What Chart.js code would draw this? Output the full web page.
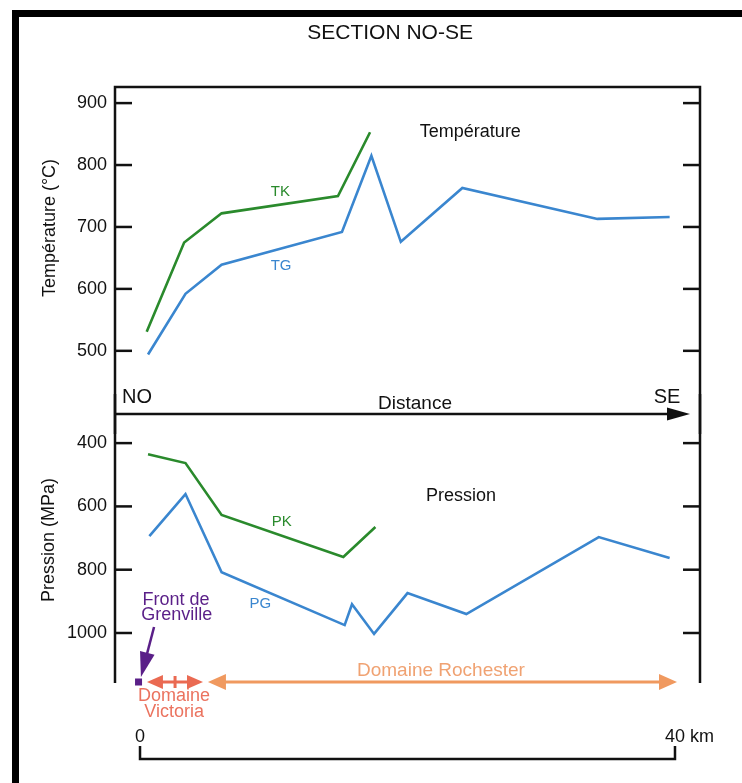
<!DOCTYPE html>
<html>
<head>
<meta charset="utf-8">
<script src="https://cdn.jsdelivr.net/npm/chart.js@4.4.1/dist/chart.umd.min.js"></script>
<style>
    html, body { margin: 0; padding: 0; background: #fff; }
    body { width: 742px; height: 783px; position: relative; overflow: hidden; }
    #cadre { position: absolute; left: 12px; top: 10px; width: 800px; height: 800px;
             border-left: 7px solid #000; border-top: 7px solid #000; }
    canvas { position: absolute; left: 0; }
    #grafTemp { top: 0; }
    #grafPres { top: 394px; }
</style>
</head>
<body>
<div id="cadre"></div>
<canvas id="grafTemp" width="742" height="434"></canvas>
<canvas id="grafPres" width="742" height="389"></canvas>
<script>
// Distances le long de la coupe (km) et valeurs
const tkKm  = [0.5, 3.3, 6.1, 14.8, 17.2];
const tkVal = [531, 675, 722, 750, 853];
const tgKm  = [0.6, 3.4, 6.1, 15.1, 17.3, 19.5, 24.1, 34.2, 39.6];
const tgVal = [494, 592, 639, 692, 815, 676, 763, 713, 716];
const pkKm  = [0.6, 3.4, 6.1, 15.2, 17.6];
const pkVal = [435, 463, 627, 760, 665];
const pgKm  = [0.7, 3.4, 6.1, 15.3, 15.85, 17.5, 20.0, 24.4, 34.3, 39.6];
const pgVal = [694, 561, 808, 975, 909, 1003, 874, 940, 697, 763];

const tempTicks = [500, 600, 700, 800, 900];
const presTicks = [400, 600, 800, 1000];

const FONT = "'Liberation Sans', Arial, sans-serif";
const VERT = "#2a8a2c";
const BLEU = "#3a86cf";
const NOIR = "#111";

const points = (xs, ys) => xs.map((v, i) => ({ x: v, y: ys[i] }));

function texte(ctx, s, x, y, taille, couleur, align) {
    ctx.font = `${taille}px ${FONT}`;
    ctx.fillStyle = couleur;
    ctx.textAlign = align || "center";
    ctx.textBaseline = "middle";
    ctx.fillText(s, x, y);
}

function ligne(ctx, x1, y1, x2, y2) {
    ctx.beginPath();
    ctx.moveTo(x1, y1);
    ctx.lineTo(x2, y2);
    ctx.stroke();
}

// pointe de fleche (triangle plein) orientee selon l'angle
function pointe(ctx, xt, yt, angle, long, demi) {
    const c = Math.cos(angle), s = Math.sin(angle);
    const bx = xt - c * long, by = yt - s * long;
    ctx.beginPath();
    ctx.moveTo(xt, yt);
    ctx.lineTo(bx - s * demi, by + c * demi);
    ctx.lineTo(bx + s * demi, by - c * demi);
    ctx.closePath();
    ctx.fill();
}

function graduations(ctx, a, echelle, valeurs) {
    valeurs.forEach(v => {
        const py = echelle.getPixelForValue(v);
        ligne(ctx, a.left, py, a.left + 17, py);
        ligne(ctx, a.right - 17, py, a.right, py);
    });
}

const dessinTemp = {
    id: "dessinTemp",
    afterDraw(chart) {
        const { ctx, chartArea: a, scales: { x, y } } = chart;
        ctx.save();
        ctx.strokeStyle = NOIR;
        ctx.fillStyle = NOIR;
        ctx.lineWidth = 2.5;
        ctx.lineCap = "butt";

        // cadre du graphique
        ctx.beginPath();
        ctx.moveTo(a.left, chart.height);
        ctx.lineTo(a.left, a.top);
        ctx.lineTo(a.right, a.top);
        ctx.lineTo(a.right, chart.height);
        ctx.stroke();
        graduations(ctx, a, y, tempTicks);

        // axe Distance avec fleche
        ligne(ctx, a.left, a.bottom, a.right - 30, a.bottom);
        pointe(ctx, a.right - 10, a.bottom, 0, 23, 6.5);

        texte(ctx, "SECTION NO-SE", x.getPixelForValue(18.7), 33, 21, NOIR);
        texte(ctx, "NO", x.getPixelForValue(-1.35), y.getPixelForValue(424), 20, NOIR, "left");
        texte(ctx, "SE", x.getPixelForValue(39.4), y.getPixelForValue(424), 20, NOIR);
        texte(ctx, "Distance", x.getPixelForValue(20.56), y.getPixelForValue(415), 19, NOIR);
        texte(ctx, "Température", x.getPixelForValue(24.7), y.getPixelForValue(853), 18, NOIR);
        texte(ctx, "TK", x.getPixelForValue(10.5), y.getPixelForValue(756), 15, VERT);
        texte(ctx, "TG", x.getPixelForValue(10.55), y.getPixelForValue(637), 15, BLEU);

        // titre de l'axe vertical
        ctx.save();
        ctx.translate(50, 228);
        ctx.rotate(-Math.PI / 2);
        texte(ctx, "Température (°C)", 0, 0, 18, NOIR);
        ctx.restore();
        ctx.restore();
    }
};

const dessinPres = {
    id: "dessinPres",
    afterDraw(chart) {
        const { ctx, chartArea: a, scales: { x, y } } = chart;
        ctx.save();
        ctx.strokeStyle = NOIR;
        ctx.fillStyle = NOIR;
        ctx.lineWidth = 2.5;

        ligne(ctx, a.left, 0, a.left, a.bottom);
        ligne(ctx, a.right, 0, a.right, a.bottom);
        graduations(ctx, a, y, presTicks);

        texte(ctx, "Pression", x.getPixelForValue(24.0), y.getPixelForValue(567), 18, NOIR);
        texte(ctx, "PK", x.getPixelForValue(10.6), y.getPixelForValue(650), 15, VERT);
        texte(ctx, "PG", x.getPixelForValue(9.0), y.getPixelForValue(909), 15, BLEU);

        ctx.save();
        ctx.translate(49, a.top + 126);
        ctx.rotate(-Math.PI / 2);
        texte(ctx, "Pression (MPa)", 0, 0, 18, NOIR);
        ctx.restore();

        const yb = a.bottom - 1;

        // Domaine Rochester
        const ORANGE = "#f0995f";
        ctx.strokeStyle = ORANGE;
        ctx.fillStyle = ORANGE;
        ctx.lineWidth = 3;
        const r1 = x.getPixelForValue(5.08), r2 = x.getPixelForValue(40.15);
        ligne(ctx, r1 + 10, yb, r2 - 10, yb);
        pointe(ctx, r1, yb, Math.PI, 18, 8);
        pointe(ctx, r2, yb, 0, 18, 8);
        texte(ctx, "Domaine Rochester", x.getPixelForValue(22.5), y.getPixelForValue(1120), 19, "#f0a272");

        // Domaine Victoria
        const CORAIL = "#ea6a52";
        ctx.strokeStyle = CORAIL;
        ctx.fillStyle = CORAIL;
        const v1 = x.getPixelForValue(0.52), v2 = x.getPixelForValue(4.71), vm = x.getPixelForValue(2.62);
        ligne(ctx, v1 + 8, yb, v2 - 8, yb);
        ligne(ctx, vm, yb - 6, vm, yb + 6);
        pointe(ctx, v1, yb, Math.PI, 16, 7);
        pointe(ctx, v2, yb, 0, 16, 7);
        texte(ctx, "Domaine", x.getPixelForValue(2.55), a.bottom + 13, 18, "#eb735f");
        texte(ctx, "Victoria", x.getPixelForValue(2.55), a.bottom + 29, 18, "#eb735f");

        // Front de Grenville
        const VIOLET = "#5a1f88";
        ctx.strokeStyle = VIOLET;
        ctx.fillStyle = VIOLET;
        ctx.lineWidth = 2.5;
        const fx = x.getPixelForValue(-0.11);
        ctx.fillRect(fx - 3.5, yb - 3.5, 7, 7);
        const ax1 = x.getPixelForValue(1.05), ay1 = y.getPixelForValue(981);
        const ax2 = x.getPixelForValue(0.07), ay2 = y.getPixelForValue(1139);
        const ang = Math.atan2(ay2 - ay1, ax2 - ax1);
        ligne(ctx, ax1, ay1, ax2 - Math.cos(ang) * 12, ay2 - Math.sin(ang) * 12);
        pointe(ctx, ax2, ay2, ang, 25, 7.5);
        texte(ctx, "Front de", x.getPixelForValue(2.69), y.getPixelForValue(896), 18, VIOLET);
        texte(ctx, "Grenville", x.getPixelForValue(2.75), y.getPixelForValue(943), 18, VIOLET);

        // echelle 0 - 40 km
        ctx.strokeStyle = NOIR;
        ctx.lineWidth = 2.5;
        const e0 = x.getPixelForValue(0), e40 = x.getPixelForValue(40);
        const ye = a.bottom + 76;
        ctx.beginPath();
        ctx.moveTo(e0, ye - 13);
        ctx.lineTo(e0, ye);
        ctx.lineTo(e40, ye);
        ctx.lineTo(e40, ye - 13);
        ctx.stroke();
        texte(ctx, "0", e0, a.bottom + 54, 18, NOIR);
        texte(ctx, "40 km", e40 - 10, a.bottom + 54, 18, NOIR, "left");
        ctx.restore();
    }
};

const X_MIN = -1.87, X_MAX = 41.87;

function axeY(min, max, valeurs, inverse) {
    return {
        min: min,
        max: max,
        reverse: inverse,
        afterFit: s => { s.width = 115; },
        afterBuildTicks: s => { s.ticks = valeurs.map(v => ({ value: v })); },
        grid: { display: false, drawTicks: false },
        border: { display: false },
        ticks: { padding: 8, color: NOIR, font: { size: 18, family: FONT }, callback: v => String(v) }
    };
}

function serie(label, data, couleur) {
    return {
        label: label,
        data: data,
        borderColor: couleur,
        borderWidth: 2.6,
        pointRadius: 0,
        tension: 0,
        fill: false,
        borderJoinStyle: "miter"
    };
}

new Chart(document.getElementById("grafTemp"), {
    type: "line",
    data: {
        datasets: [
            serie("TK", points(tkKm, tkVal), VERT),
            serie("TG", points(tgKm, tgVal), BLEU)
        ]
    },
    options: {
        responsive: false,
        animation: false,
        layout: { padding: { top: 87, right: 42, bottom: 20, left: 0 } },
        plugins: { legend: { display: false }, tooltip: { enabled: false } },
        scales: {
            x: { type: "linear", display: false, min: X_MIN, max: X_MAX },
            y: axeY(398, 926, tempTicks, false)
        }
    },
    plugins: [dessinTemp]
});

new Chart(document.getElementById("grafPres"), {
    type: "line",
    data: {
        datasets: [
            serie("PK", points(pkKm, pkVal), VERT),
            serie("PG", points(pgKm, pgVal), BLEU)
        ]
    },
    options: {
        responsive: false,
        animation: false,
        layout: { padding: { top: 20, right: 42, bottom: 100, left: 0 } },
        plugins: { legend: { display: false }, tooltip: { enabled: false } },
        scales: {
            x: { type: "linear", display: false, min: X_MIN, max: X_MAX },
            y: axeY(308, 1158, presTicks, true)
        }
    },
    plugins: [dessinPres]
});
</script>
</body>
</html>
